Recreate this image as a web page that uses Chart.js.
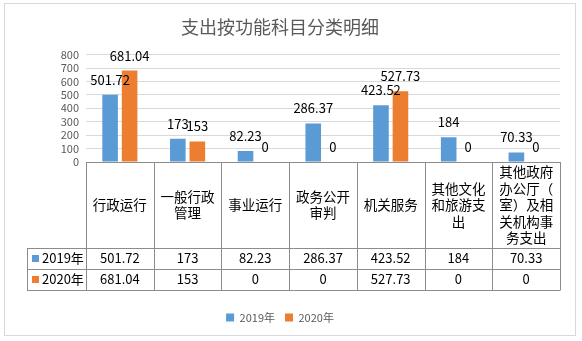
<!DOCTYPE html>
<html>
<head>
<meta charset="utf-8">
<script src="https://cdn.jsdelivr.net/npm/chart.js@4/dist/chart.umd.min.js"></script>
<style>
  html, body { margin: 0; padding: 0; background: #fff; }
  #wrap { width: 582px; height: 341px; }
</style>
</head>
<body>
<div id="wrap"><canvas id="c" width="582" height="341"></canvas></div>
<script>
// Expenditure by functional category, 2019 vs 2020
const categories = ['行政运行', '一般行政管理', '事业运行', '政务公开审判', '机关服务', '其他文化和旅游支出', '其他政府办公厅（室）及相关机构事务支出'];
const seriesNames = ['2019年', '2020年'];
const values2019 = [501.72, 173, 82.23, 286.37, 423.52, 184, 70.33];
const values2020 = [681.04, 153, 0, 0, 527.73, 0, 0];
const yTicks = [0, 100, 200, 300, 400, 500, 600, 700, 800];
const chartTitle = '支出按功能科目分类明细';

const FONT = "'Noto Sans CJK SC', 'Noto Sans', sans-serif";
const BLUE = '#5B9BD5';
const ORANGE = '#ED7D31';
const TABLE_LINE = '#8c8c8c';
const HEADER_H = 86;   // height of the category header row under the axis
const ROW_H = 21;      // height of each data row
const LABEL_COL_X = 27; // left edge of the series-name column

// White background and thin outer frame
const framePlugin = {
  id: 'frame',
  beforeDraw(chart) {
    const ctx = chart.ctx;
    ctx.save();
    ctx.fillStyle = '#fff';
    ctx.fillRect(0, 0, chart.width, chart.height);
    ctx.strokeStyle = '#d9d9d9';
    ctx.lineWidth = 1;
    ctx.strokeRect(4.5, 3.5, 571, 332);
    ctx.restore();
  }
};

// Value labels above each bar
const valueLabelPlugin = {
  id: 'valueLabels',
  afterDatasetsDraw(chart) {
    const ctx = chart.ctx;
    ctx.save();
    ctx.font = '13px ' + FONT;
    ctx.fillStyle = '#000';
    ctx.textAlign = 'center';
    ctx.textBaseline = 'middle';
    chart.data.datasets.forEach((ds, di) => {
      const meta = chart.getDatasetMeta(di);
      meta.data.forEach((bar, i) => {
        ctx.fillText(String(ds.data[i]), bar.x, bar.y - 15);
      });
    });
    ctx.restore();
  }
};

function wrapText(ctx, text, maxWidth) {
  const lines = [];
  let cur = '';
  for (const ch of text) {
    if (cur && ctx.measureText(cur + ch).width > maxWidth) {
      lines.push(cur);
      cur = ch;
    } else {
      cur += ch;
    }
  }
  if (cur) lines.push(cur);
  return lines;
}

// Data table under the plot: category header row plus one row per series
const dataTablePlugin = {
  id: 'dataTable',
  afterDraw(chart) {
    const ctx = chart.ctx;
    const x = chart.scales.x;
    const n = categories.length;
    const left = x.left, right = x.right;
    const cw = (right - left) / n;
    const top = chart.chartArea.bottom;
    const headerBottom = top + HEADER_H;
    const bottom = headerBottom + ROW_H * seriesNames.length;
    const px = v => Math.round(v) + 0.5;

    ctx.save();
    ctx.strokeStyle = TABLE_LINE;
    ctx.lineWidth = 1;
    ctx.beginPath();
    // horizontal lines
    ctx.moveTo(left, px(top)); ctx.lineTo(right, px(top));
    for (let r = 0; r <= seriesNames.length; r++) {
      const y = px(headerBottom + r * ROW_H);
      ctx.moveTo(LABEL_COL_X, y); ctx.lineTo(px(right), y);
    }
    // vertical lines
    for (let i = 0; i <= n; i++) {
      const xx = px(left + i * cw);
      ctx.moveTo(xx, top); ctx.lineTo(xx, bottom);
    }
    ctx.moveTo(px(LABEL_COL_X), headerBottom); ctx.lineTo(px(LABEL_COL_X), bottom);
    ctx.stroke();

    // category header text
    ctx.fillStyle = '#000';
    ctx.textAlign = 'center';
    ctx.textBaseline = 'middle';
    ctx.font = '13.5px ' + FONT;
    const lh = 16.6;
    categories.forEach((cat, i) => {
      const cx = left + (i + 0.5) * cw;
      const lines = wrapText(ctx, cat, cw - 8);
      const cy = top + HEADER_H / 2;
      const y0 = cy - (lines.length - 1) * lh / 2;
      lines.forEach((ln, k) => ctx.fillText(ln, cx, y0 + k * lh));
    });

    // series rows
    ctx.font = '13px ' + FONT;
    const rows = [values2019, values2020];
    const rowColors = [BLUE, ORANGE];
    rows.forEach((vals, r) => {
      const cy = headerBottom + r * ROW_H + ROW_H / 2;
      vals.forEach((v, i) => {
        ctx.textAlign = 'center';
        ctx.fillText(String(v), left + (i + 0.5) * cw, cy);
      });
      ctx.fillStyle = rowColors[r];
      ctx.fillRect(32, Math.round(cy - 3.5), 7, 7);
      ctx.fillStyle = '#000';
      ctx.textAlign = 'left';
      ctx.fillText(seriesNames[r], 42, cy);
    });
    ctx.restore();
  }
};

new Chart(document.getElementById('c'), {
  type: 'bar',
  data: {
    labels: categories,
    datasets: [
      { label: seriesNames[0], data: values2019, backgroundColor: BLUE, categoryPercentage: 0.576, barPercentage: 0.8 },
      { label: seriesNames[1], data: values2020, backgroundColor: ORANGE, categoryPercentage: 0.576, barPercentage: 0.8 }
    ]
  },
  options: {
    responsive: false,
    animation: false,
    devicePixelRatio: 1,
    layout: { padding: { left: 0, right: 22, top: 0, bottom: 8 } },
    plugins: {
      title: {
        display: true,
        text: chartTitle,
        color: '#595959',
        font: { family: FONT, size: 18, weight: 'normal' },
        padding: { top: 16, bottom: 17 }
      },
      legend: {
        position: 'bottom',
        labels: {
          boxWidth: 8,
          boxHeight: 8,
          padding: 10,
          color: '#595959',
          font: { family: FONT, size: 11 }
        }
      },
      tooltip: { enabled: false }
    },
    scales: {
      x: {
        offset: true,
        grid: { display: false },
        border: { display: false },
        ticks: { display: false },
        afterFit(scale) { scale.height = 140; }
      },
      y: {
        min: 0,
        max: 800,
        afterBuildTicks(scale) { scale.ticks = yTicks.map(v => ({ value: v })); },
        grid: { color: '#d9d9d9', drawTicks: false },
        border: { display: false },
        ticks: { color: '#595959', padding: 7, autoSkip: false, font: { family: FONT, size: 11 } },
        afterFit(scale) { scale.width = 86; }
      }
    }
  },
  plugins: [framePlugin, valueLabelPlugin, dataTablePlugin]
});
</script>
</body>
</html>
